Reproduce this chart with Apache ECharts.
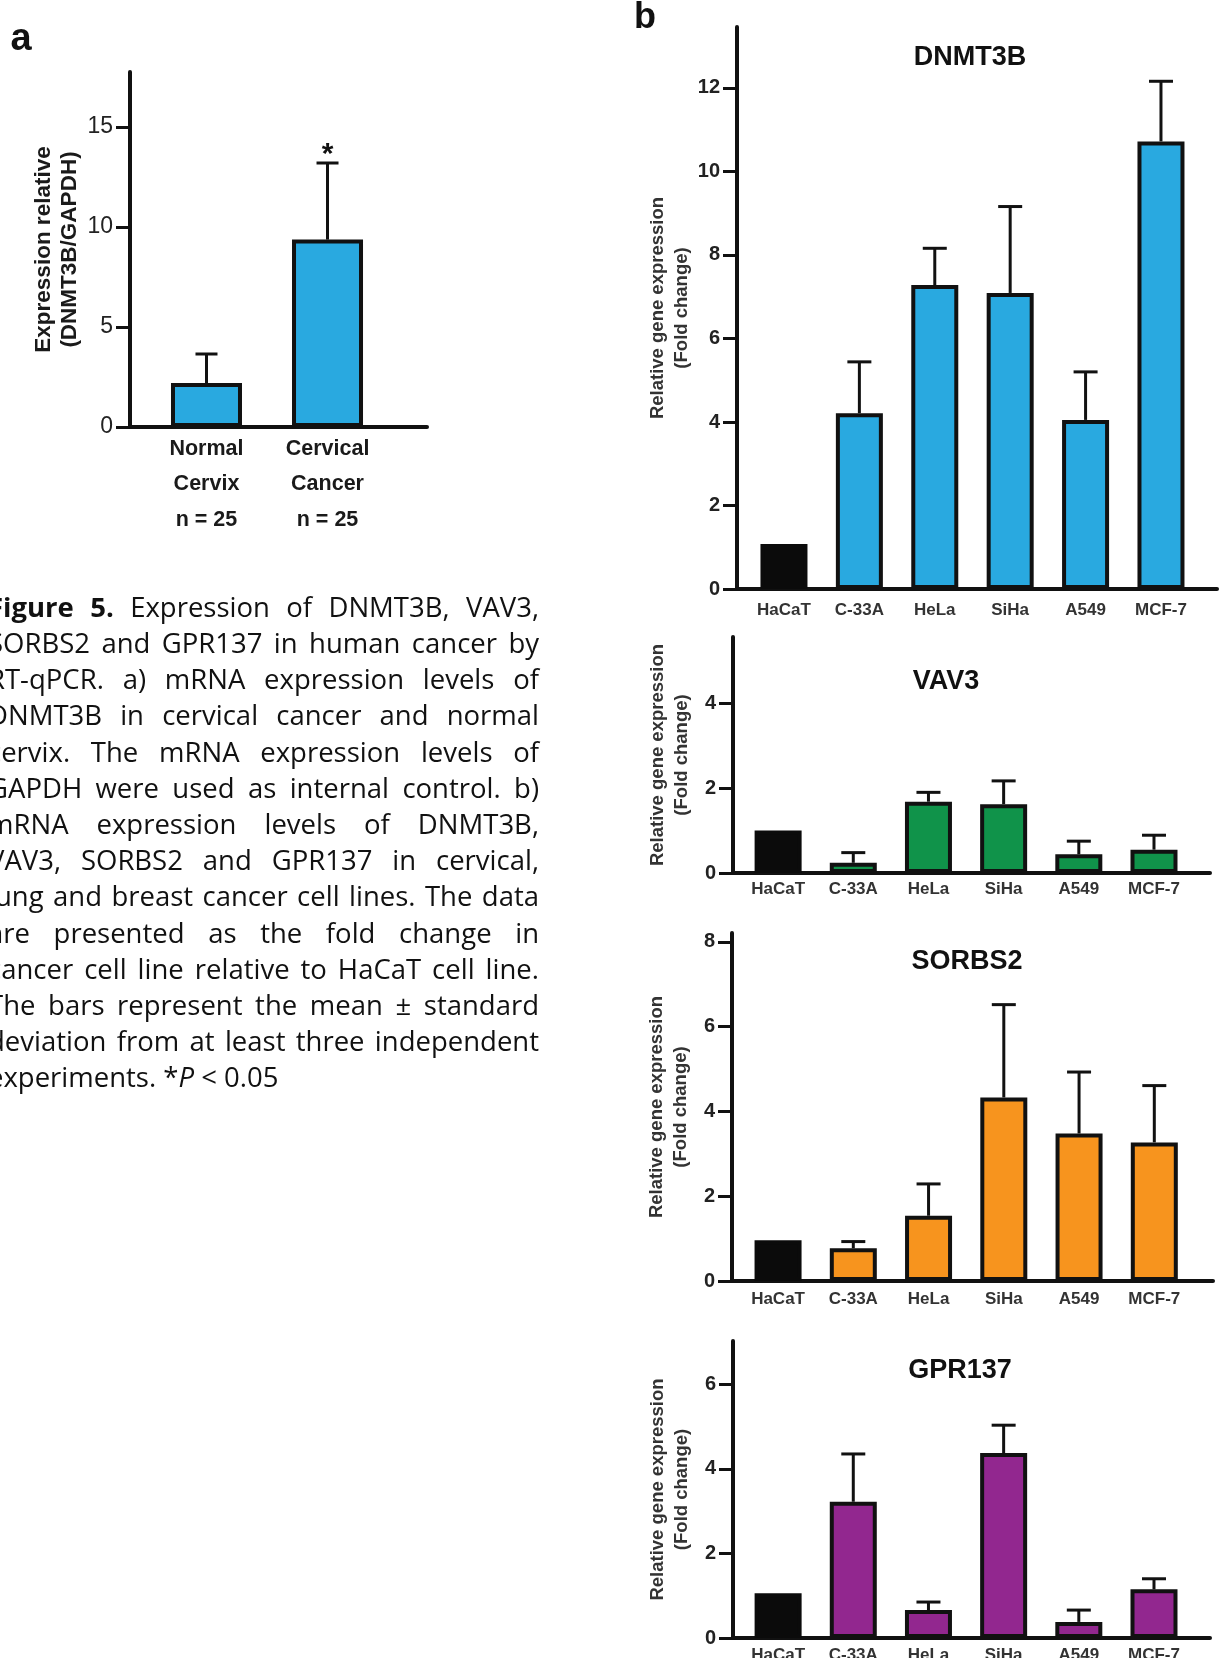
<!DOCTYPE html>
<html>
<head>
<meta charset="utf-8">
<script src="https://cdn.jsdelivr.net/npm/echarts@6/dist/echarts.min.js"></script>
<style>
  html, body { margin: 0; padding: 0; background: #fff; }
  #chart { width: 1220px; height: 1658px; }
</style>
</head>
<body>
<div id="chart"></div>
<script>
// ---- data ----
const tissueGroups = ['Normal\nCervix\nn = 25', 'Cervical\nCancer\nn = 25'];
const tissueMean = [2.2, 9.37];
const tissueSd = [1.45, 3.83];
const tissueMarks = ['', '*'];

const cellLines = ['HaCaT', 'C-33A', 'HeLa', 'SiHa', 'A549', 'MCF-7'];
const dnmt3bMean = [1.08, 4.21, 7.28, 7.09, 4.05, 10.72];
const dnmt3bSd = [0, 1.23, 0.88, 2.07, 1.15, 1.44];
const vav3Mean = [1.0, 0.24, 1.68, 1.62, 0.44, 0.55];
const vav3Sd = [0, 0.24, 0.22, 0.55, 0.31, 0.34];
const sorbs2Mean = [0.96, 0.77, 1.54, 4.33, 3.48, 3.27];
const sorbs2Sd = [0, 0.16, 0.75, 2.19, 1.45, 1.34];
const gpr137Mean = [1.06, 3.22, 0.66, 4.37, 0.38, 1.15];
const gpr137Sd = [0, 1.13, 0.19, 0.66, 0.28, 0.25];

const captionLines = [
  'Figure 5. Expression of DNMT3B, VAV3,',
  'SORBS2 and GPR137 in human cancer by',
  'RT-qPCR. a) mRNA expression levels of',
  'DNMT3B in cervical cancer and normal',
  'cervix. The mRNA expression levels of',
  'GAPDH were used as internal control. b)',
  'mRNA expression levels of DNMT3B,',
  'VAV3, SORBS2 and GPR137 in cervical,',
  'lung and breast cancer cell lines. The data',
  'are presented as the fold change in',
  'cancer cell line relative to HaCaT cell line.',
  'The bars represent the mean \u00b1 standard',
  'deviation from at least three independent',
  'experiments. *P < 0.05'
];

// ---- layout / style ----
const FONT = '"Liberation Sans", Arial, sans-serif';
const INK = '#111';
const CONTROL = '#0b0b0b';

const panels = [
  { title: null, cats: tissueGroups, mean: tissueMean, sd: tissueSd, marks: tissueMarks,
    color: '#29A9E0', control: false,
    grid: { left: 130, top: 72, width: 297, height: 355 },
    xMin: -0.632, xMax: 1.822, yMax: 17.75, yTicks: [0, 5, 10, 15],
    barWidth: 71, cap: 22, labelMargin: 4,
    name: 'Expression relative\n(DNMT3B/GAPDH)', nameGap: 47 },
  { title: 'DNMT3B', titlePos: [970, 58], cats: cellLines, mean: dnmt3bMean, sd: dnmt3bSd,
    color: '#29A9E0', control: true,
    grid: { left: 737, top: 27, width: 480, height: 562 },
    xMin: -0.623, xMax: 5.743, yMax: 13.46, yTicks: [0, 2, 4, 6, 8, 10, 12],
    barWidth: 47, cap: 24, labelMargin: 11 },
  { title: 'VAV3', titlePos: [946, 682], cats: cellLines, mean: vav3Mean, sd: vav3Sd,
    color: '#10934A', control: true,
    grid: { left: 733, top: 637, width: 477, height: 236 },
    xMin: -0.6, xMax: 5.745, yMax: 5.56, yTicks: [0, 2, 4],
    barWidth: 47, cap: 24, labelMargin: 6 },
  { title: 'SORBS2', titlePos: [967, 962], cats: cellLines, mean: sorbs2Mean, sd: sorbs2Sd,
    color: '#F7941E', control: true,
    grid: { left: 732, top: 933, width: 481, height: 348 },
    xMin: -0.612, xMax: 5.78, yMax: 8.21, yTicks: [0, 2, 4, 6, 8],
    barWidth: 47, cap: 24, labelMargin: 8 },
  { title: 'GPR137', titlePos: [960, 1371], cats: cellLines, mean: gpr137Mean, sd: gpr137Sd,
    color: '#92278F', control: true,
    grid: { left: 733, top: 1341, width: 477, height: 297 },
    xMin: -0.6, xMax: 5.745, yMax: 7.02, yTicks: [0, 2, 4, 6],
    barWidth: 47, cap: 24, labelMargin: 7 }
];
panels.slice(1).forEach(p => {
  p.name = 'Relative gene expression\n(Fold change)';
  p.nameGap = 39;
});

const grids = [], xAxes = [], yAxes = [], series = [], graphics = [];

panels.forEach(function (p, k) {
  const isA = k === 0;
  // keep the grid exactly where it is placed, even if labels run off the page
  grids.push(Object.assign({ outerBoundsMode: 'none', containLabel: false }, p.grid));

  xAxes.push({
    type: 'value', gridIndex: k, min: p.xMin, max: p.xMax,
    axisLine: { onZero: false, lineStyle: { color: INK, width: 4 } },
    axisTick: { show: false },
    splitLine: { show: false },
    axisLabel: {
      customValues: p.cats.map((c, i) => i),
      formatter: function (v) { return p.cats[Math.round(v)] || ''; },
      margin: p.labelMargin,
      color: isA ? '#1a1a1a' : '#333',
      fontFamily: FONT,
      fontWeight: 'bold',
      fontSize: isA ? 21.5 : 17,
      lineHeight: isA ? 35.5 : 20
    }
  });

  yAxes.push({
    type: 'value', gridIndex: k, min: 0, max: p.yMax,
    axisLine: { show: true, onZero: false, lineStyle: { color: INK, width: 4 } },
    axisTick: { show: true, inside: false, length: 14, customValues: p.yTicks, lineStyle: { color: INK, width: 3 } },
    axisLabel: {
      customValues: p.yTicks, margin: 17,
      color: '#222', fontFamily: FONT,
      fontWeight: isA ? 'normal' : 'bold',
      fontSize: isA ? 23 : 20
    },
    splitLine: { show: false },
    name: p.name, nameLocation: 'middle', nameGap: p.nameGap, nameRotate: 90,
    nameTextStyle: {
      fontFamily: FONT, fontWeight: 'bold',
      fontSize: isA ? 22.5 : 18.5,
      lineHeight: isA ? 26 : 24,
      color: isA ? '#1a1a1a' : '#333'
    }
  });

  series.push({
    type: 'bar', xAxisIndex: k, yAxisIndex: k,
    barWidth: p.barWidth, animation: false, silent: true,
    itemStyle: { color: p.color, borderColor: INK, borderWidth: 4 },
    data: p.mean.map(function (v, i) {
      const item = { value: [i, v] };
      if (p.control && i === 0) item.itemStyle = { color: CONTROL, borderColor: CONTROL };
      return item;
    })
  });

  series.push({
    type: 'custom', xAxisIndex: k, yAxisIndex: k, animation: false, silent: true, z: 3,
    data: p.mean.map(function (v, i) { return [i, v, p.sd[i]]; }),
    renderItem: function (params, api) {
      const x = api.value(0), m = api.value(1), s = api.value(2);
      const idx = params.dataIndex;
      if (!s) return null;
      const base = api.coord([x, m]);
      const top = api.coord([x, m + s]);
      const half = p.cap / 2;
      const children = [
        { type: 'line', shape: { x1: base[0], y1: base[1], x2: top[0], y2: top[1] },
          style: { stroke: INK, lineWidth: 3 } },
        { type: 'line', shape: { x1: top[0] - half, y1: top[1], x2: top[0] + half, y2: top[1] },
          style: { stroke: INK, lineWidth: 3 } }
      ];
      const mark = p.marks ? p.marks[idx] : '';
      if (mark) {
        children.push({ type: 'text', style: {
          text: mark, x: top[0], y: top[1] - 8, align: 'center', verticalAlign: 'middle',
          font: 'bold 30px ' + FONT, fill: INK } });
      }
      return { type: 'group', children: children };
    }
  });

  if (p.title) {
    graphics.push({ type: 'text', x: p.titlePos[0], y: p.titlePos[1], silent: true,
      style: { text: p.title, align: 'center', verticalAlign: 'middle',
        font: 'bold 27px ' + FONT, fill: INK } });
  }
});

// panel letters
graphics.push({ type: 'text', x: 21, y: 40, silent: true,
  style: { text: 'a', align: 'center', verticalAlign: 'middle', font: 'bold 38px ' + FONT, fill: INK } });
graphics.push({ type: 'text', x: 645, y: 18, silent: true,
  style: { text: 'b', align: 'center', verticalAlign: 'middle', font: 'bold 36px ' + FONT, fill: INK } });

// caption, justified line by line (left side is cropped in the original)
const CAP_FAMILY = '"Open Sans", "Noto Sans", sans-serif';
const CAP_SIZE = 27.5;
const capLeft = -12, capRight = 539, capTop = 609, capStep = 36.2;
const mctx = document.createElement('canvas').getContext('2d');
function capFont(weight, style) { return style + ' ' + weight + ' ' + CAP_SIZE + 'px ' + CAP_FAMILY; }
function measure(t, font) { mctx.font = font; return mctx.measureText(t).width; }

captionLines.forEach(function (line, li) {
  const words = line.split(' ');
  const tokens = words.map(function (w, wi) {
    let parts;
    if (li === 0 && wi < 2) parts = [{ t: w, font: capFont('bold', 'normal') }];
    else if (w === '*P') parts = [{ t: '*', font: capFont('normal', 'normal') }, { t: 'P', font: capFont('normal', 'italic') }];
    else parts = [{ t: w, font: capFont('normal', 'normal') }];
    parts.forEach(pt => { pt.w = measure(pt.t, pt.font); });
    return { parts: parts, w: parts.reduce((a, b) => a + b.w, 0) };
  });
  const total = tokens.reduce((a, b) => a + b.w, 0);
  const last = li === captionLines.length - 1;
  const space = measure(' ', capFont('normal', 'normal'));
  let gap = last ? space : (capRight - capLeft - total) / (tokens.length - 1);
  let scale = 1;
  if (gap < space * 0.6) {
    // squeeze very slightly if the line is naturally too long
    gap = space * 0.6;
    scale = (capRight - capLeft - gap * (tokens.length - 1)) / total;
  }
  const y = capTop + li * capStep;
  let x = capLeft;
  tokens.forEach(function (tk) {
    let px = x;
    tk.parts.forEach(function (pt) {
      graphics.push({ type: 'text', x: px, y: y, scaleX: scale, silent: true,
        style: { text: pt.t, font: pt.font, fill: '#111', verticalAlign: 'middle' } });
      px += pt.w * scale;
    });
    x += tk.w * scale + gap;
  });
});

const chart = echarts.init(document.getElementById('chart'), null, { renderer: 'canvas' });
chart.setOption({
  animation: false,
  backgroundColor: '#fff',
  grid: grids,
  xAxis: xAxes,
  yAxis: yAxes,
  series: series,
  graphic: { elements: graphics }
});
</script>
</body>
</html>
